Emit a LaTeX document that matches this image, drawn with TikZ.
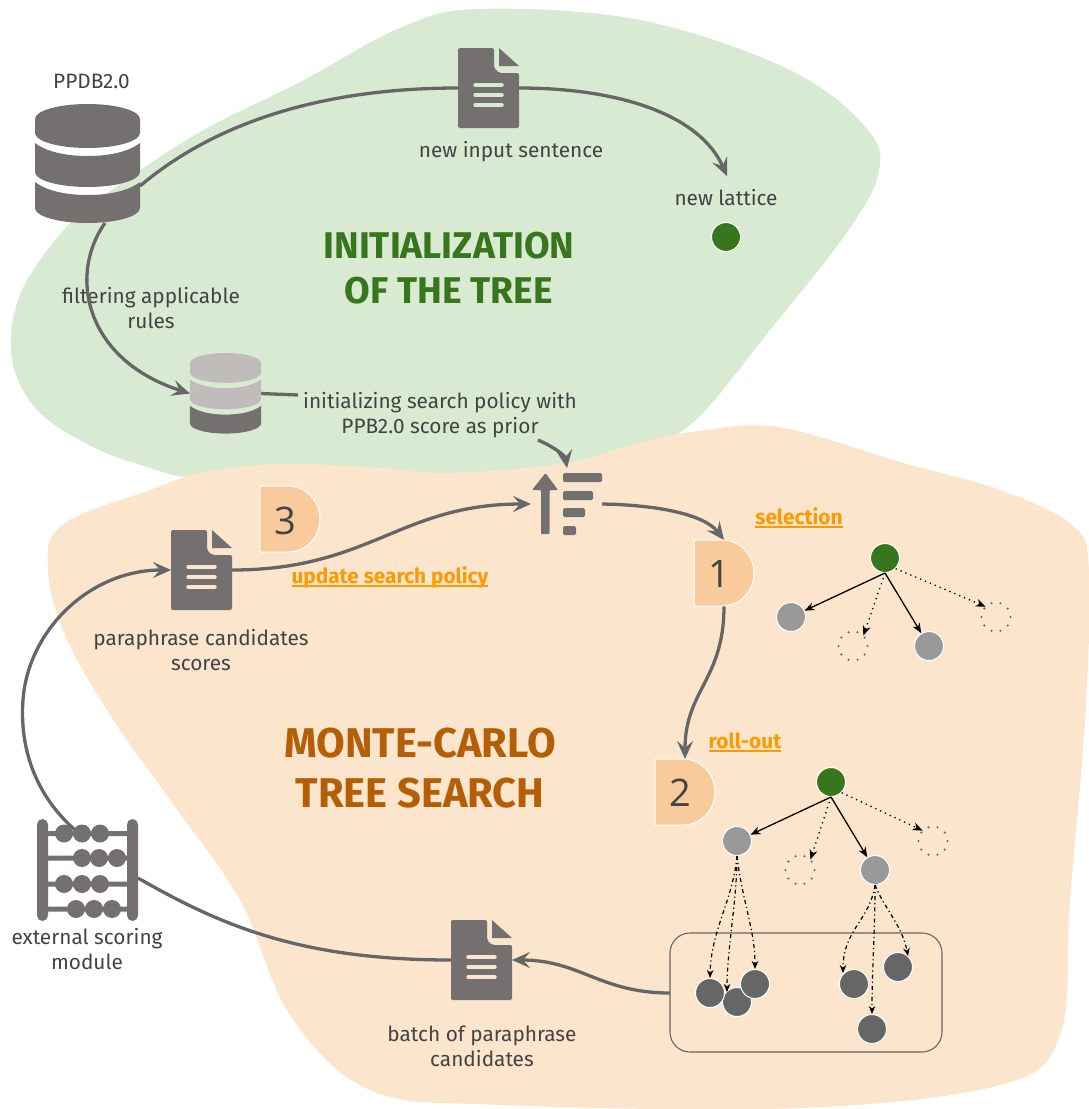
\documentclass[tikz,border=0pt]{standalone}
\usepackage{fontspec}
\setmainfont{Fira Sans}
\newfontfamily\digitfont{Open Sans}
\usetikzlibrary{arrows.meta}
\definecolor{blobgreen}{HTML}{D9EAD3}
\definecolor{bloborange}{HTML}{FCE5CD}
\definecolor{dshape}{HTML}{F9CB9C}
\definecolor{icongray}{HTML}{757070}
\definecolor{iconlight}{HTML}{C0BCBC}
\definecolor{linegray}{HTML}{666666}
\definecolor{txt}{HTML}{434343}
\definecolor{darkgreen}{HTML}{38761D}
\definecolor{darkorange}{HTML}{B45F06}
\definecolor{labelorange}{HTML}{FF9900}
\definecolor{nodegray}{HTML}{999999}
\definecolor{nodedark}{HTML}{666666}
\newcommand\ulabel[1]{\setbox0\hbox{#1}\rlap{\rule[-3.5pt]{\wd0}{2pt}}\box0}
% document icon: centre, colour of the lines
\newcommand\docicon[2]{\begin{scope}[shift={(#1)}]
 \fill[icongray,rounded corners=2pt] (-30.5,-40) -- (5.5,-40) -- (5.5,-20) -- (10.5,-15) -- (30.5,-15) -- (30.5,40) -- (-30.5,40) -- cycle;
 \fill[icongray] (10.5,-40) -- (30.5,-22) -- (10.5,-22) -- cycle;
 \draw[#2,line width=4.5pt,line cap=round] (-13,-3) -- (13,-3) (-13,7) -- (13,7) (-13,17) -- (13,17);
\end{scope}}
% database icon: top centre, colours of the layers
\newcommand\dbicon[4]{\begin{scope}[shift={(#1)},scale=#2]
 \fill[#3] (-52.5,15) .. controls (-52.5,6.7) and (-29,0) .. (0,0) .. controls (29,0) and (52.5,6.7) .. (52.5,15) -- (52.5,29) .. controls (52.5,37.3) and (29,44) .. (0,44) .. controls (-29,44) and (-52.5,37.3) .. (-52.5,29) -- cycle;
 \fill[#3] (-52.5,39) .. controls (-42,47) and (-24,52) .. (0,52) .. controls (24,52) and (42,47) .. (52.5,39) -- (52.5,68) .. controls (52.5,76.3) and (29,83) .. (0,83) .. controls (-29,83) and (-52.5,76.3) .. (-52.5,68) -- cycle;
 \fill[#4] (-52.5,78) .. controls (-42,86) and (-24,91) .. (0,91) .. controls (24,91) and (42,86) .. (52.5,78) -- (52.5,104) .. controls (52.5,112.3) and (29,119) .. (0,119) .. controls (-29,119) and (-52.5,112.3) .. (-52.5,104) -- cycle;
\end{scope}}
\newcommand\dshapeicon[1]{\begin{scope}[shift={(#1)}]
 \draw[white,fill=dshape,line width=1pt] (-30,-33) -- (-2,-33) .. controls (16,-33) and (30,-18) .. (30,0) .. controls (30,18) and (16,33) .. (-2,33) -- (-30,33) -- cycle;
\end{scope}}
\tikzset{
 iconbox/.style={inner sep=0pt,outer sep=0pt,minimum width=#1},
 flow/.style={linegray,line width=3.3pt,-{Stealth[length=18pt,width=16pt,inset=7pt]}},
 flowplain/.style={linegray,line width=3.3pt},
 body/.style={text=txt,font=\fontsize{20.8}{25}\selectfont,align=center,inner sep=0pt},
 title/.style={font=\fontsize{37.2}{45}\selectfont\bfseries,align=center,inner sep=0pt},
 titleB/.style={font=\fontsize{41.6}{50}\selectfont\bfseries,align=center,inner sep=0pt},
 steplabel/.style={text=labelorange,font=\fontsize{20.8}{25}\selectfont\bfseries,inner sep=0pt},
 digit/.style={text=txt,font=\digitfont\fontsize{38}{40}\selectfont,inner sep=0pt},
 tnode/.style={circle,draw=white,line width=1pt,minimum size=29pt,inner sep=0pt,fill=#1},
 ghost/.style={circle,draw=none,minimum size=29pt,inner sep=0pt},
 ghostline/.style={draw=linegray,line width=2.4pt,line cap=round,dash pattern=on 0pt off 9.1pt},
 solidarr/.style={black,line width=1.3pt,-{Stealth[length=10pt,width=8pt]}},
 dotarr/.style={black,line width=1.3pt,dash pattern=on 1.3pt off 4pt,-{Stealth[length=10pt,width=8pt]}},
 dasharr/.style={black,line width=1.2pt,dash pattern=on 4pt off 3pt on 1.2pt off 3pt,-{Stealth[length=8pt,width=6.5pt]}},
}
\begin{document}
\begin{tikzpicture}[x=1pt,y=-1pt]
\useasboundingbox (0,0) rectangle (1089,1109);
% blobs
\fill[blobgreen] plot[smooth cycle,tension=0.6] coordinates {(478,9) (640,20) (790,70) (868,130) (878,175) (845,235) (770,330) (690,425) (620,455) (540,480) (380,480) (250,480) (190,478) (150,468) (95,448) (42,415) (16,375) (11,335) (20,295) (40,260) (73,220) (107,193) (200,132) (300,82) (400,28)};
\fill[bloborange] plot[smooth cycle,tension=0.6] coordinates {(692,432) (778,427) (900,462) (1000,490) (1072,525) (1089,570) (1085,720) (1070,900) (1060,1035) (1000,1085) (800,1108) (500,1105) (370,1090) (290,1015) (240,900) (170,800) (110,715) (65,635) (48,570) (62,525) (150,490) (205,472) (283,464) (380,468) (450,473) (567,463) (630,445)};
% anchors of icons
\node[iconbox=105pt,minimum height=119pt] (dbA) at (87.5,163.5) {};
\node[iconbox=71pt,minimum height=81pt] (dbB) at (225.5,393.5) {};
\node[iconbox=61pt,minimum height=80pt] (docA) at (488.5,88) {};
\node[iconbox=61pt,minimum height=80pt] (docB) at (201.5,570) {};
\node[iconbox=61pt,minimum height=80pt] (docC) at (481.5,960) {};
\node[iconbox=70pt,minimum height=62pt] (sortI) at (567,504) {};
\node[iconbox=101pt,minimum height=102pt] (abacus) at (87.5,870) {};
\node[iconbox=60pt,minimum height=66pt] (dOne) at (724,573) {};
\node[iconbox=60pt,minimum height=66pt] (dTwo) at (685,792) {};
\node[iconbox=60pt,minimum height=66pt] (dThree) at (290,519) {};
\coordinate (dbAr) at (140,186);
\coordinate (dbAb) at (105,223);
\coordinate (abacusTop) at (75,830);
\coordinate (abacusRight) at (138,878);
\coordinate (lattEnd) at (727,176);
\coordinate (sortTop) at (567,468);
\coordinate (sortLeft) at (531,504);
\coordinate (sortRight) at (602,504);
\coordinate (boxLeft) at (670,993);
\coordinate (initRight) at (298,395);
\coordinate (initOut) at (538,440);
% texts
\node[body] (tPPDB) at (91.5,81) {PPDB2.0};
\node[body] (tInput) at (511,152) {new input sentence};
\node[body] (tLattice) at (726,198) {new lattice};
\node[body] (tFilter) at (151,308.5) {filtering applicable\\rules};
\node[body] (tInit) at (440,415.5) {initializing search policy with\\PPB2.0 score as prior};
\node[body] (tCand) at (201,650.5) {paraphrase candidates\\scores};
\node[body] (tBatch) at (482,1046) {batch of paraphrase\\candidates};
\node[body] (tExt) at (87,949) {external scoring\\module};
\node[title,text=darkgreen] (tTitleA) at (449,268) {INITIALIZATION\\OF THE TREE};
\node[titleB,text=darkorange] (tTitleB) at (420,768) {MONTE-CARLO\\TREE SEARCH};
\node[steplabel] (tSel) at (799,518) {\ulabel{selection}};
\node[steplabel] (tUpd) at (390,577) {\ulabel{update search policy}};
\node[steplabel] (tRoll) at (745,742) {\ulabel{roll-out}};
% flows
\draw[flowplain] (dbAr) .. controls (230,110) and (350,88) .. (docA.west);
\draw[flow] (docA.east) .. controls (620,88) and (700,115) .. (lattEnd);
\draw[flow] (dbAb) .. controls (68,275) and (85,360) .. (dbB.west);
\draw[flowplain] (dbB.east) -- (initRight);
\draw[flow] (initOut) .. controls (552,446) and (565,455) .. (sortTop);
\draw[flow] (docB.east) .. controls (370,570) and (400,504) .. (sortLeft);
\draw[flow] (sortRight) .. controls (660,505) and (705,515) .. (dOne.north);
\draw[flow] (dOne.south) .. controls (724,680) and (685,690) .. (dTwo.north);
\draw[flow] (boxLeft) .. controls (600,993) and (580,960) .. (docC.east);
\draw[flowplain] (docC.west) .. controls (300,960) and (220,925) .. (abacusRight);
\draw[flow] (abacusTop) .. controls (30,790) and (20,740) .. (23,700) .. controls (28,630) and (90,570) .. (docB.west);
% icons
\dbicon{87.5,104}{1}{icongray}{icongray}
\dbicon{225.5,353}{0.677}{iconlight}{icongray}
\docicon{docA}{blobgreen}
\docicon{docB}{bloborange}
\docicon{docC}{bloborange}
% sort icon
\fill[icongray,rounded corners=1pt] (532,490) -- (545.5,473) -- (558,490) -- (549.5,490) -- (549.5,534) -- (541,534) -- (541,490) -- cycle;
\fill[icongray,rounded corners=1.5pt] (563,473) rectangle (602,482) (563,491) rectangle (593,500) (563,508) rectangle (585,517) (563,526) rectangle (576,535);
% abacus
\fill[icongray] (44,831) rectangle (130,836) (44,855.5) rectangle (130,860.5) (44,881.5) rectangle (130,886.5) (44,906.5) rectangle (130,911.5);
\foreach \bx/\by in {64/833.5,82/833.5,100/833.5,82/858,99/858,117/858,64/884,82/884,100/884,76/909,94/909,112/909}
 \fill[icongray] (\bx,\by) circle[radius=9];
\fill[icongray,rounded corners=5.5pt] (37,819) rectangle (48,921) (127,819) rectangle (138,921);
% D shapes
\dshapeicon{dOne} \dshapeicon{dTwo} \dshapeicon{dThree}
\node[digit] (nOne) at (719,574) {1};
\node[digit] (nTwo) at (680,793) {2};
\node[digit] (nThree) at (285,521) {3};
% lattice node
\node[tnode=darkgreen] (lat) at (726,237) {};
% tree 1
\node[tnode=darkgreen] (aR) at (885,558) {};
\node[tnode=nodegray] (aA) at (791,617) {};
\node[tnode=nodegray] (aC) at (929,646) {};
\node[ghost] (aB) at (853,646) {};
\node[ghost] (aD) at (996,617) {};
\draw[ghostline] (853,646) circle[radius=14.5] (996,617) circle[radius=14.5];
\draw[solidarr] (aR.south) -- (aA);
\draw[solidarr] (aR.south) -- (aC);
\draw[dotarr] (aR.south) -- (aB.45);
\draw[dotarr] (aR.south east) -- (aD.135);
% tree 2
\node[tnode=darkgreen] (bR) at (831,782) {};
\node[tnode=nodegray] (bA) at (737,841) {};
\node[tnode=nodegray] (bC) at (875,870) {};
\node[ghost] (bB) at (800,870) {};
\node[ghost] (bD) at (933,841) {};
\draw[ghostline] (800,870) circle[radius=14.5] (933,841) circle[radius=14.5];
\draw[solidarr] (bR.south) -- (bA);
\draw[solidarr] (bR.south) -- (bC);
\draw[dotarr] (bR.south) -- (bB.45);
\draw[dotarr] (bR.south east) -- (bD.135);
% candidates
\draw[draw=linegray,line width=1.1pt,rounded corners=20pt] (670,933) rectangle (942,1052);
\node[tnode=nodedark] (cC) at (737,1002) {};
\node[tnode=nodedark] (cA) at (710,993) {};
\node[tnode=nodedark] (cB) at (755,984) {};
\node[tnode=nodedark] (cD) at (854,984) {};
\node[tnode=nodedark] (cE) at (898,967) {};
\node[tnode=nodedark] (cF) at (872,1029) {};
\draw[dasharr] (bA.south) .. controls (733,900) and (711,930) .. (cA.north);
\draw[dasharr] (bA.south) .. controls (737,900) and (727,950) .. (727,992);
\draw[dasharr] (bA.south) .. controls (742,900) and (755,930) .. (cB.north);
\draw[dasharr] (bC.south) .. controls (870,920) and (843,930) .. (843,973);
\draw[dasharr] (bC.south) .. controls (885,910) and (902,925) .. (908,956);
\draw[dasharr] (bC.south) .. controls (875,930) and (872,970) .. (cF.north);
\end{tikzpicture}
\end{document}
